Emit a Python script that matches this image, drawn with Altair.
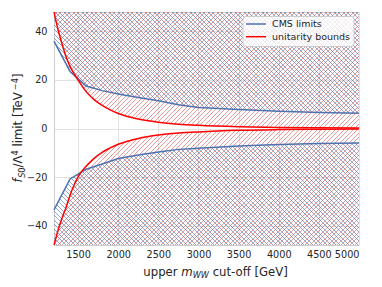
import altair as alt
import pandas as pd

# ---------------- data ----------------
x_unitarity = [1200, 1250, 1300, 1350, 1400, 1450, 1500, 1600, 1700, 1800, 1900, 2000,
               2250, 2500, 2750, 3000, 3500, 4000, 4500, 5000]
unitarity_upper = [48, 40.8, 34.8, 29.6, 25.6, 22.5, 20.0, 15.2, 11.9, 9.5, 7.7, 6.2,
                   3.9, 2.6, 1.8, 1.3, 0.7, 0.4, 0.27, 0.18]
unitarity_lower = [-48, -42, -37, -32.5, -27.5, -23.3, -19.9, -15.6, -12.3, -9.8, -8.0, -6.5,
                   -4.1, -2.7, -1.9, -1.4, -0.75, -0.45, -0.3, -0.2]

x_cms = [1200, 1400, 1600, 1800, 2000, 2250, 2500, 2750, 3000, 3500, 4000, 4500, 5000]
cms_upper = [36, 23.5, 17.5, 15.6, 14.2, 12.8, 11.4, 9.8, 8.7, 7.8, 7.1, 6.6, 6.3]
cms_lower = [-33.5, -20.8, -16.8, -14.6, -12.4, -10.9, -9.7, -8.6, -8.1, -7.2, -6.6, -6.2, -6.0]

series_names = ["CMS limits", "unitarity bounds"]
x_ticks = [1500, 2000, 2500, 3000, 3500, 4000, 4500, 5000]
y_ticks = [-40, -20, 0, 20, 40]
x_domain = [1200, 5000]
y_domain = [-48, 48]

# ---------------- style ----------------
W, H = 305, 233
BLUE = "#4c72b0"
RED = "#ff0000"
TXT = "#262626"
FONT = "DejaVu Sans"


def ypix(v):
    return (y_domain[1] - v) / (y_domain[1] - y_domain[0]) * H


def hatch(h_px, direction, rgb, alpha, period=4.5, thick=1.1):
    """Diagonal hatch as a hard-stop linear gradient over the mark's bounding box."""
    w, h = W, h_px
    L = w + h
    k = L / (w * w + h * h)
    gx, gy = k * w, k * h
    if direction == "/":
        pos = dict(x1=0, y1=0, x2=gx, y2=gy)
    else:
        pos = dict(x1=0, y1=1, x2=gx, y2=1 - gy)
    clear = f"rgba({rgb},0)"
    col = f"rgba({rgb},{alpha})"
    stops = [{"offset": 0, "color": clear}]
    dt, d = period / L, thick / L
    t = dt / 2
    while t + d < 1:
        a, b = round(t, 5), round(t + d, 5)
        stops += [{"offset": a, "color": clear}, {"offset": a, "color": col},
                  {"offset": b, "color": col}, {"offset": b, "color": clear}]
        t += dt
    stops.append({"offset": 1, "color": clear})
    return {"gradient": "linear", **pos, "stops": stops}


red_df = pd.DataFrame({"x": x_unitarity, "up": unitarity_upper, "lo": unitarity_lower})
cms_df = pd.DataFrame({"x": x_cms, "up": cms_upper, "lo": cms_lower})

red_long = pd.concat([
    pd.DataFrame({"x": x_unitarity, "v": unitarity_upper, "side": "upper"}),
    pd.DataFrame({"x": x_unitarity, "v": unitarity_lower, "side": "lower"}),
])
cms_long = pd.concat([
    pd.DataFrame({"x": x_cms, "v": cms_upper, "side": "upper"}),
    pd.DataFrame({"x": x_cms, "v": cms_lower, "side": "lower"}),
])

xs = alt.Scale(domain=x_domain, nice=False, zero=False)
ys = alt.Scale(domain=y_domain, nice=False, zero=False)
xax = alt.Axis(values=x_ticks, title=None, format="d", labelOverlap=False)
yax = alt.Axis(values=y_ticks, title=None, format="d", labelOverlap=False)


def X():
    return alt.X("x:Q", scale=xs, axis=xax)


def Y(f):
    return alt.Y(f"{f}:Q", scale=ys, axis=yax)


RED_RGB = "225,55,55"
BLUE_RGB = "76,114,176"
RED_A, BLUE_A = 0.5, 0.6

red_up_area = alt.Chart(red_df).mark_area(
    interpolate="monotone",
    fill=hatch(ypix(min(unitarity_upper)), "/", RED_RGB, RED_A),
).encode(x=X(), y=Y("up"), y2=alt.datum(y_domain[1]))

red_lo_area = alt.Chart(red_df).mark_area(
    interpolate="monotone",
    fill=hatch(H - ypix(max(unitarity_lower)), "/", RED_RGB, RED_A),
).encode(x=X(), y=Y("lo"), y2=alt.datum(y_domain[0]))

cms_up_area = alt.Chart(cms_df).mark_area(
    fill=hatch(ypix(min(cms_upper)), "\\", BLUE_RGB, BLUE_A),
).encode(x=X(), y=Y("up"), y2=alt.datum(y_domain[1]))

cms_lo_area = alt.Chart(cms_df).mark_area(
    fill=hatch(H - ypix(max(cms_lower)), "\\", BLUE_RGB, BLUE_A),
).encode(x=X(), y=Y("lo"), y2=alt.datum(y_domain[0]))

cms_line = alt.Chart(cms_long).mark_line(color=BLUE, strokeWidth=1.5).encode(
    x=X(), y=Y("v"), detail="side:N")
red_line = alt.Chart(red_long).mark_line(color=RED, strokeWidth=1.5, interpolate="monotone").encode(
    x=X(), y=Y("v"), detail="side:N")

dummy = pd.DataFrame({"d": [0]})

# ---------------- legend (drawn by hand) ----------------
legend_box = alt.Chart(dummy).mark_rect(
    fill="white", fillOpacity=0.8, stroke="#cccccc", strokeWidth=1, cornerRadius=3
).encode(x=alt.value(189), x2=alt.value(300), y=alt.value(4.5), y2=alt.value(34.5))

legend_layers = [legend_box]
for i, (name, col) in enumerate(zip(series_names, [BLUE, RED])):
    yy = 12 + 12.7 * i
    legend_layers.append(alt.Chart(dummy).mark_rule(color=col, strokeWidth=1.5).encode(
        x=alt.value(192), x2=alt.value(212), y=alt.value(yy)))
    legend_layers.append(alt.Chart(dummy).mark_text(
        text=name, font=FONT, fontSize=9.5, color=TXT, align="left", baseline="middle"
    ).encode(x=alt.value(218), y=alt.value(yy)))

# ---------------- axis titles with sub/superscripts ----------------
WID = {' ': .318, 'a': .613, 'b': .635, 'c': .550, 'd': .635, 'e': .615, 'f': .352,
       'i': .278, 'l': .278, 'm': .974, 'n': .634, 'o': .612, 'p': .635, 'r': .411, 's': .521,
       't': .392, 'u': .634, 'y': .592, 'G': .775, 'S': .635, 'T': .611, 'V': .684, 'W': .989,
       'Λ': .684, '[': .390, ']': .390, '/': .337, '-': .361, '−': .838, '0': .636, '4': .636}


def tw(s, size):
    return sum(WID.get(c, .6) for c in s) * size


def title_pieces(pieces, x0, y0, vertical):
    """pieces: (text, size, style, baseline shift, gap before in px)"""
    layers = []
    pos = 0.0
    for text, size, style, shift, gap in pieces:
        pos += gap
        if vertical:
            px, py, ang = x0 + shift, y0 - pos, 270
        else:
            px, py, ang = x0 + pos, y0 + shift, 0
        layers.append(alt.Chart(dummy).mark_text(
            text=text, font=FONT, fontSize=size, fontStyle=style, color=TXT,
            align="left", baseline="alphabetic", angle=ang
        ).encode(x=alt.value(px), y=alt.value(py)))
        pos += tw(text, size)
    return layers


SP = 0.318 * 11.7
xt = [("upper", 11.7, "normal", 0, 0), ("m", 11.7, "italic", 0, SP),
      ("WW", 8.2, "italic", 2.5, 0), ("cut-off [GeV]", 11.7, "normal", 0, SP)]
yt = [("f", 11.7, "italic", 0, 0), ("S", 8.2, "italic", 2.5, 0.5), ("0", 8.2, "normal", 2.5, 0),
      ("/Λ", 11.7, "normal", 0, 0), ("4", 8.2, "normal", -4.2, 0),
      ("limit [TeV", 11.7, "normal", 0, SP), ("−4", 8.2, "normal", -4.2, 0),
      ("]", 11.7, "normal", 0, 0)]

ylen = sum(tw(t, s) + g for t, s, _, _, g in yt)
title_layers = title_pieces(xt, 89.3, 263.5, False) + title_pieces(yt, -32, 116 + ylen / 2, True)

chart = alt.layer(
    red_up_area, red_lo_area, cms_up_area, cms_lo_area, cms_line, red_line,
    *legend_layers, *title_layers
).properties(
    width=W, height=H,
    autosize=alt.AutoSizeParams(type="none"),
    padding={"left": 46, "top": 4, "right": 14, "bottom": 34},
).configure_view(
    stroke="#cccccc", strokeWidth=1
).configure_axis(
    grid=True, gridColor="#e2e2e2", gridWidth=1, domain=False, ticks=False,
    labelFont=FONT, labelFontSize=9.7, labelColor=TXT
).configure_axisX(labelPadding=4).configure_axisY(labelPadding=7)

chart.save("out.html", embed_options={"renderer": "svg", "actions": False})
